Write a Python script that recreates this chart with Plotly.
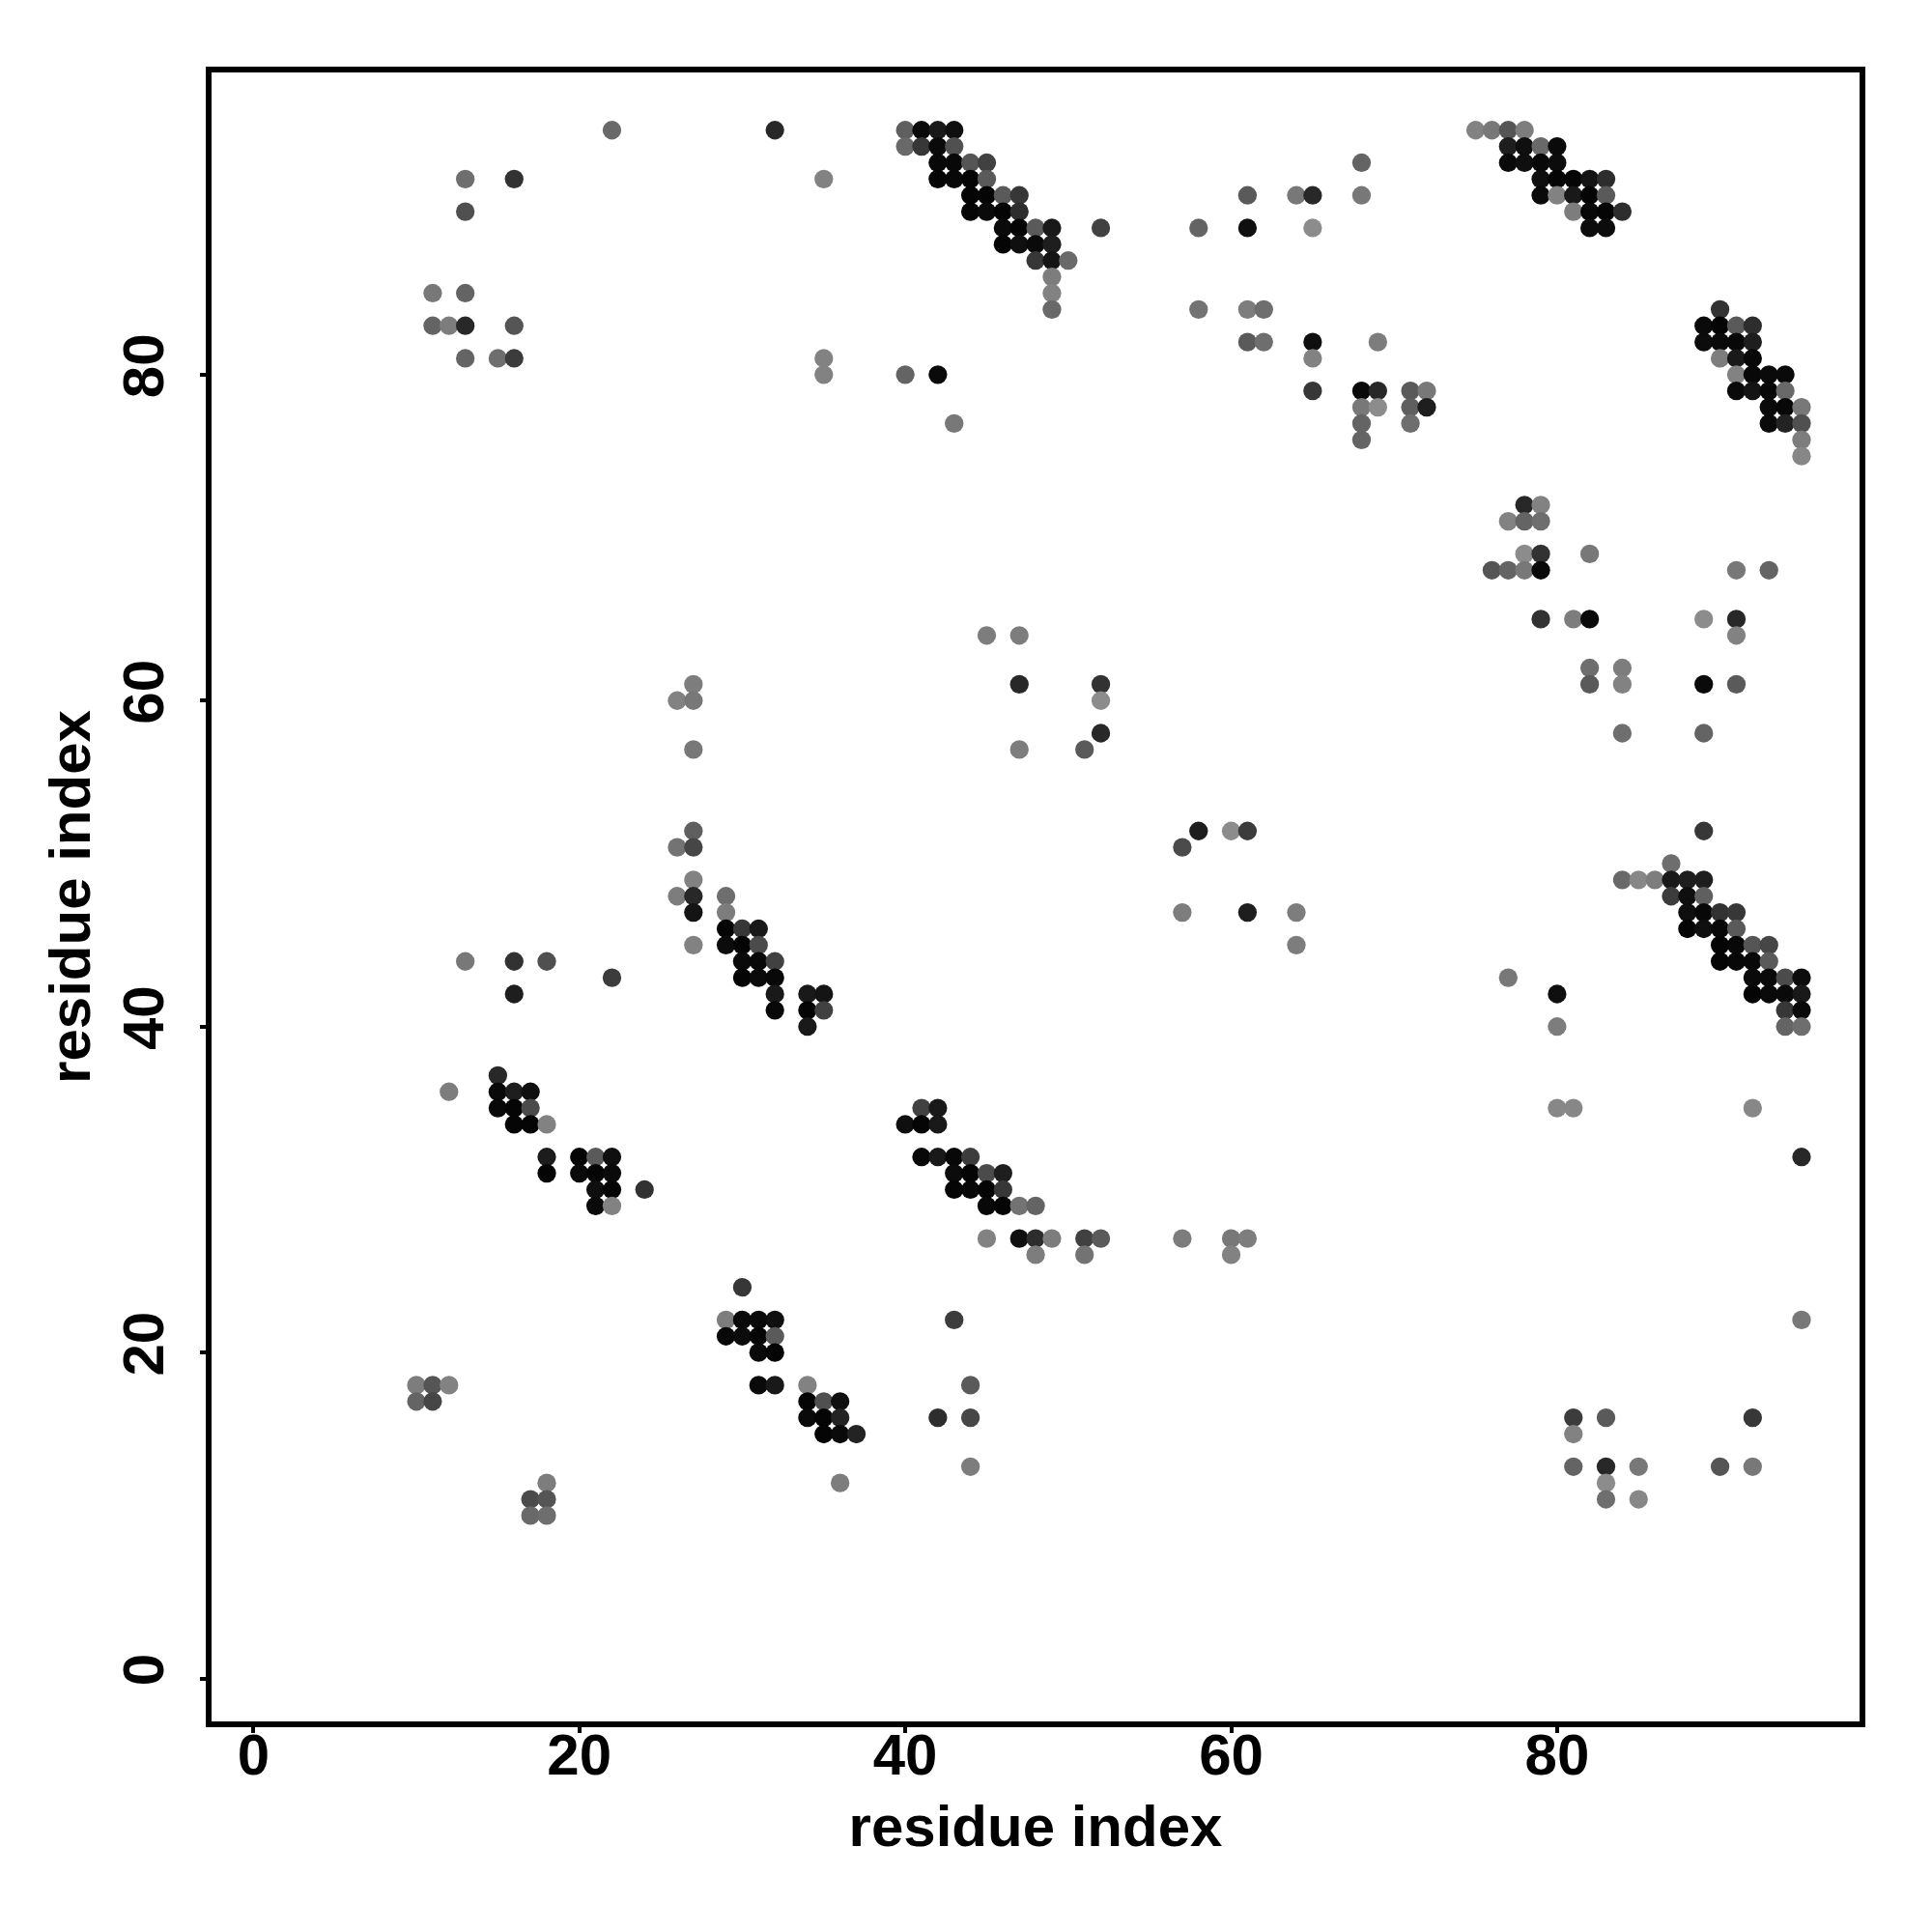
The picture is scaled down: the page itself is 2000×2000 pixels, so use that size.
import plotly.graph_objects as go

# One list per row of the contact map: y index, x indices, grey levels (0 = black, 255 = white)
row_95 = (95, [22,32,40,41,42,43,75,76,77,78], [105,40,95,10,25,15,130,120,85,125])
row_94 = (94, [40,41,42,43,77,78,79,80], [105,55,10,80,30,15,105,10])
row_93 = (93, [42,43,44,45,68,77,78,79,80], [8,8,85,65,100,10,15,8,12])
row_92 = (92, [13,16,35,42,43,44,45,79,80,81,82,83], [110,50,130,5,8,5,90,15,5,5,20,45])
row_91 = (91, [44,45,46,47,61,64,65,68,79,80,81,82,83], [5,5,90,55,90,120,40,120,10,130,25,5,90])
row_90 = (90, [13,44,45,46,47,81,82,83,84], [80,5,10,5,45,125,8,5,45])
row_89 = (89, [46,47,48,49,52,58,61,65,82,83], [10,5,90,25,65,100,15,140,12,12])
row_88 = (88, [46,47,48,49], [5,15,10,30])
row_87 = (87, [48,49,50], [55,20,105])
row_86 = (86, [49], [125])
row_85 = (85, [11,13,49], [120,100,130])
row_84 = (84, [49,58,61,62,90], [105,115,125,110,50])
row_83 = (83, [11,12,13,16,89,90,91,92], [100,125,40,85,10,5,90,45])
row_82 = (82, [61,62,65,69,89,90,91,92], [90,110,15,125,12,10,8,30])
row_81 = (81, [13,15,16,35,65,90,91,92], [100,110,60,130,130,125,25,8])
row_80 = (80, [35,40,42,91,92,93,94], [130,100,10,130,8,10,10])
row_79 = (79, [65,68,69,71,72,91,92,93,94], [55,10,40,90,120,10,20,8,105])
row_78 = (78, [68,69,71,72,93,94,95], [120,140,95,30,10,8,120])
row_77 = (77, [43,68,71,93,94,95], [120,100,110,10,35,80])
row_76 = (76, [68,95], [100,125])
row_75 = (75, [95], [135])
row_72 = (72, [78,79], [40,130])
row_71 = (71, [77,78,79], [130,100,110])
row_69 = (69, [78,79,82], [140,50,120])
row_68 = (68, [76,77,78,79,91,93], [85,100,120,10,120,100])
row_65 = (65, [79,81,82,89,91], [50,125,10,140,40])
row_64 = (64, [45,47,91], [125,125,130])
row_62 = (62, [82,84], [110,125])
row_61 = (61, [27,47,52,82,84,89,91], [125,40,50,90,130,10,90])
row_60 = (60, [26,27,52], [130,120,140])
row_58 = (58, [52,84,89], [40,110,100])
row_57 = (57, [27,47,51], [120,125,90])
row_52 = (52, [27,58,60,61,89], [95,30,140,60,55])
row_51 = (51, [26,27,57], [115,70,75])
row_50 = (50, [87], [110])
row_49 = (49, [27,84,85,86,87,88,89], [130,105,135,125,25,30,30])
row_48 = (48, [26,27,29,87,88,89], [125,40,110,60,15,95])
row_47 = (47, [27,29,57,61,64,88,89,90,91], [20,125,125,30,125,15,8,50,55])
row_46 = (46, [29,30,31,88,89,90,91], [5,55,25,5,15,8,90])
row_45 = (45, [27,29,30,31,64,90,91,92,93], [130,12,5,75,125,5,8,85,70])
row_44 = (44, [13,16,18,30,31,32,90,91,92,93], [120,50,80,10,8,65,5,8,8,90])
row_43 = (43, [22,30,31,32,77,92,93,94,95], [60,5,10,8,120,10,10,75,12])
row_42 = (42, [16,32,34,35,80,92,93,94,95], [30,25,25,20,15,5,10,10,25])
row_41 = (41, [32,34,35,94,95], [8,5,65,55,10])
row_40 = (40, [34,80,94,95], [25,125,100,110])
row_37 = (37, [15], [40])
row_36 = (36, [12,15,16,17], [125,10,30,15])
row_35 = (35, [15,16,17,41,42,80,81,92], [8,5,75,65,25,135,135,135])
row_34 = (34, [16,17,18,40,41,42], [5,5,130,15,5,25])
row_32 = (32, [18,20,21,22,41,42,43,44,95], [28,5,90,15,8,25,8,60,40])
row_31 = (31, [18,20,21,22,43,44,45,46], [5,10,5,10,12,5,75,30])
row_30 = (30, [21,22,24,43,44,45,46], [15,5,50,5,8,5,55])
row_29 = (29, [21,22,45,46,47,48], [10,130,8,5,115,100])
row_27 = (27, [45,47,48,49,51,52,57,60,61], [130,15,45,125,65,90,125,120,125])
row_26 = (26, [48,51,60], [125,115,130])
row_24 = (24, [30], [55])
row_22 = (22, [29,30,31,32,43,95], [125,10,10,15,60,120])
row_21 = (21, [29,30,31,32], [8,12,5,90])
row_20 = (20, [31,32], [10,5])
row_18 = (18, [10,11,12,31,32,34,44], [125,85,130,10,25,130,90])
row_17 = (17, [10,11,34,35,36], [100,70,5,80,15])
row_16 = (16, [34,35,36,42,44,81,83,92], [10,5,35,45,70,60,90,55])
row_15 = (15, [35,36,37,81], [5,10,35,130])
row_13 = (13, [44,81,83,85,90,92], [125,100,40,120,85,120])
row_12 = (12, [18,36,83], [125,125,140])
row_11 = (11, [17,18,83,85], [75,85,110,135])
row_10 = (10, [17,18], [105,110])

rows = [v for k, v in list(globals().items()) if k.startswith("row_")]
xs, ys, greys = [], [], []
for y_val, x_vals, g_vals in rows:
    xs += x_vals
    ys += [y_val] * len(x_vals)
    greys += g_vals

tick_vals = [0, 20, 40, 60, 80]
axis_title = "residue index"
FONT = "Liberation Sans"

fig = go.Figure(go.Scatter(
    x=xs, y=ys, mode="markers",
    marker=dict(size=19.3, color=greys, cmin=0, cmax=255,
                colorscale=[[0, "black"], [1, "white"]], showscale=False,
                line=dict(width=0)),
    hoverinfo="skip"))

axis_common = dict(
    tickmode="array", tickvals=tick_vals, ticktext=[str(t) for t in tick_vals],
    ticks="outside", ticklen=6, tickwidth=3.5, tickcolor="black",
    showline=True, linecolor="black", linewidth=5.5, mirror=True,
    showgrid=False, zeroline=False,
    tickfont=dict(family=FONT, size=60, color="black", weight="bold"),
)
fig.update_layout(
    width=1984, height=1984, autosize=False,
    paper_bgcolor="white", plot_bgcolor="white", showlegend=False,
    margin=dict(l=211, r=67, t=67, b=210.3, pad=0),
    xaxis=dict(range=[-2.57, 98.56], ticklabelstandoff=-29,
               title=dict(text=axis_title, standoff=22,
                          font=dict(family=FONT, size=60, color="black", weight="bold")),
               **axis_common),
    yaxis=dict(range=[-2.63, 98.54], tickangle=-90, ticklabelstandoff=14,
               title=dict(text=axis_title, standoff=4,
                          font=dict(family=FONT, size=60, color="black", weight="bold")),
               **axis_common),
)
fig.write_html("out.html")
